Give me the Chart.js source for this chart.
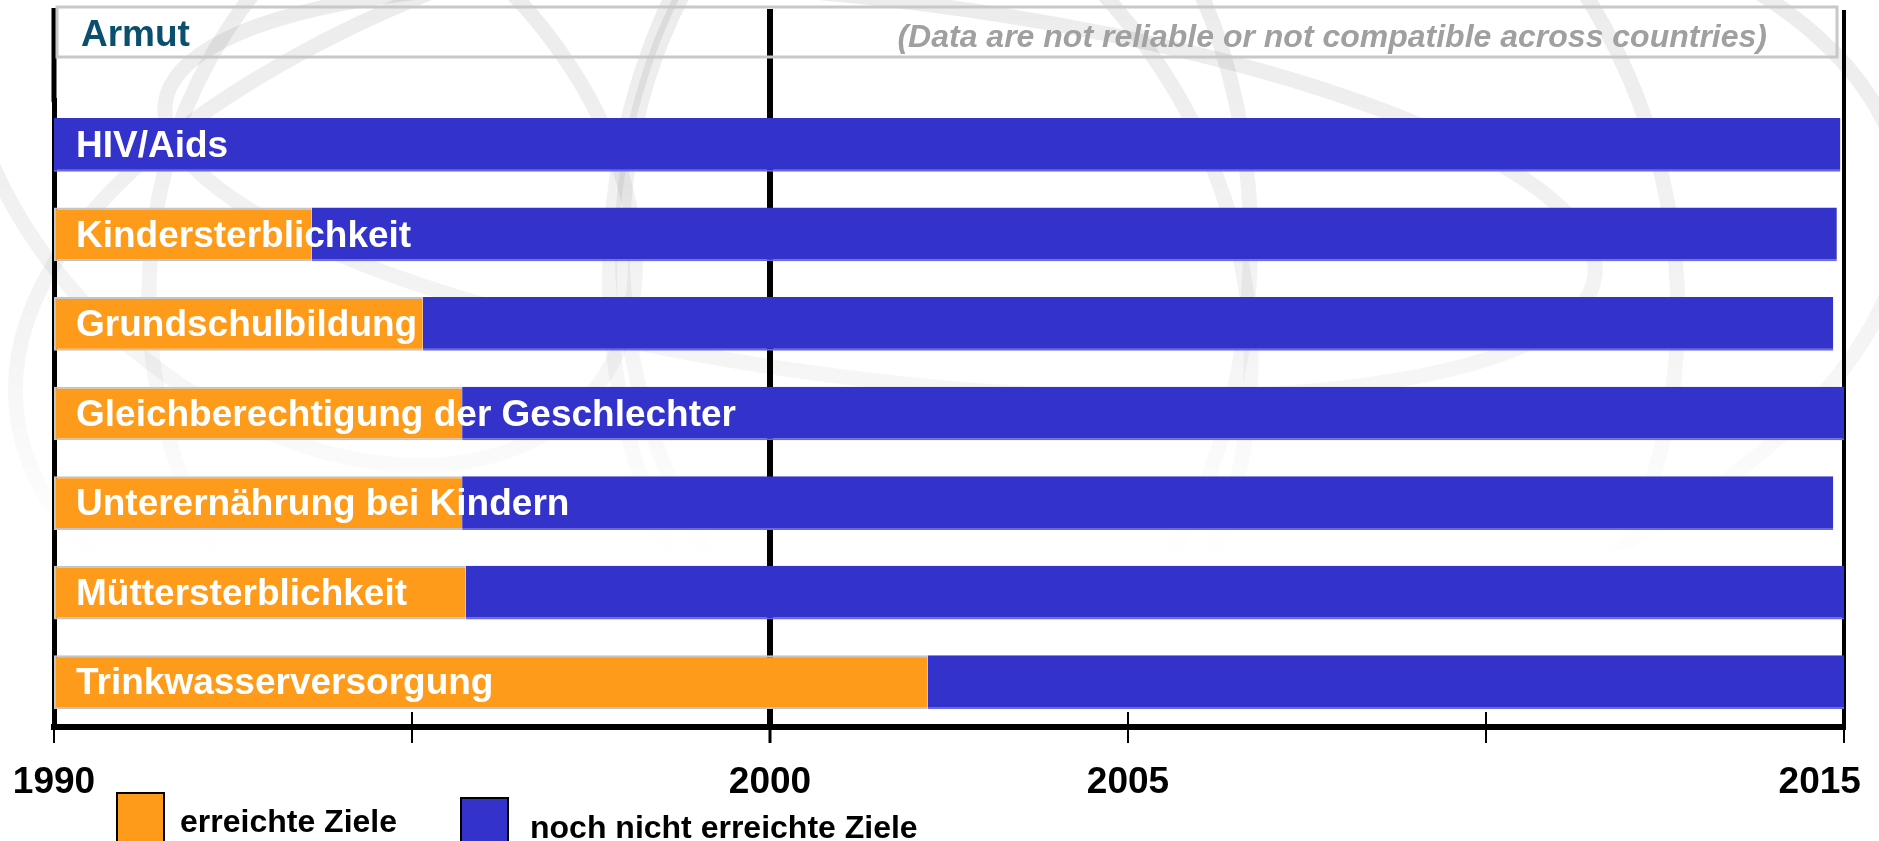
<!DOCTYPE html>
<html>
<head>
<meta charset="utf-8">
<script src="https://cdn.jsdelivr.net/npm/chart.js@4"></script>
<style>
  body { margin: 0; width: 1879px; height: 841px; overflow: hidden; background: #fff; font-family: "Liberation Sans", Arial, sans-serif; }
  #wrap { position: absolute; left: 0; top: 0; width: 1879px; height: 841px; }
  .box { position: absolute; width: 45px; height: 60px; border: 2px solid #000; }
  .lbl { position: absolute; font-weight: bold; font-size: 32px; line-height: 32px; white-space: nowrap; color: #000; }
</style>
</head>
<body>
<div id="wrap"><canvas id="myChart"></canvas></div>
<div class="box" style="left:116px; top:792px; background:#FF9B1A;"></div>
<div class="lbl" style="left:180px; top:805px;">erreichte Ziele</div>
<div class="box" style="left:460px; top:797px; background:#3333CC;"></div>
<div class="lbl" style="left:530px; top:811px;">noch nicht erreichte Ziele</div>
<script>
var goals = ["HIV/Aids", "Kindersterblichkeit", "Grundschulbildung", "Gleichberechtigung der Geschlechter",
             "Unterernährung bei Kindern", "Müttersterblichkeit", "Trinkwasserversorgung"];
var startYear = 1990;
var endYear = 2015;
// year up to which the goal is reached (orange) and end of the blue part
var reachedUntil = [1990, 1993.6, 1995.15, 1995.7, 1995.7, 1995.75, 2002.2];
var openUntil = [2014.95, 2014.9, 2014.85, 2015, 2014.85, 2015, 2015];
var tickYears = [1990, 1995, 2000, 2005, 2010, 2015];
var labelYears = [1990, 2000, 2005, 2015];

var headerTitle = "Armut";
var headerNote = "(Data are not reliable or not compatible across countries)";

var orange = "#FF9B1A";
var blue = "#3333CC";
var fontFamily = '"Liberation Sans", Arial, sans-serif';

var reachedData = reachedUntil.map(v => v > startYear ? [startYear, v] : null);
var openData = reachedUntil.map((v, i) => [v, openUntil[i]]);

// faint globe watermark behind the slide, fading out towards the bottom
var watermark = {
    id: 'watermark',
    beforeDraw(chart) {
        let ctx = chart.ctx;
        ctx.save();
        let g = ctx.createLinearGradient(0, 0, 0, 560);
        g.addColorStop(0, "rgba(0,0,0,0.075)");
        g.addColorStop(0.6, "rgba(0,0,0,0.045)");
        g.addColorStop(1, "rgba(0,0,0,0)");
        ctx.strokeStyle = g;
        ctx.lineWidth = 15;
        [[960, 300, 950, 430, -0.12], [930, 260, 320, 470, 0.05], [880, 190, 720, 190, 0.12],
         [700, 330, 560, 520, 0.5], [1150, 280, 520, 560, -0.45], [300, 150, 380, 260, 0.7]].forEach(e => {
            ctx.beginPath();
            ctx.ellipse(e[0], e[1], e[2], e[3], e[4], 0, Math.PI * 2);
            ctx.stroke();
        });
        ctx.restore();
    }
};

var decor = {
    id: 'decor',
    afterDatasetsDraw(chart) {
        let ctx = chart.ctx, x = chart.scales.x, y = chart.scales.y;
        ctx.save();
        ctx.fillStyle = "#fff";
        ctx.font = "bold 37px " + fontFamily;
        ctx.textBaseline = "middle";
        goals.forEach((g, i) => {
            ctx.fillText(g, x.getPixelForValue(startYear) + 22, y.getPixelForValue(i) + 2);
        });
        ctx.restore();
    },
    afterDraw(chart) {
        let ctx = chart.ctx, x = chart.scales.x, area = chart.chartArea;
        ctx.save();
        // small tick parts above the axis line
        ctx.strokeStyle = "#000";
        ctx.lineWidth = 2;
        [1995, 2005, 2010].forEach(t => {
            let px = x.getPixelForValue(t);
            ctx.beginPath();
            ctx.moveTo(px, area.bottom - 15);
            ctx.lineTo(px, area.bottom);
            ctx.stroke();
        });
        // vertical lines running up through the header row
        [[startYear, 5, 8], [2000, 6, 9], [endYear, 4, 10]].forEach(l => {
            let px = x.getPixelForValue(l[0]);
            ctx.lineWidth = l[1];
            ctx.beginPath();
            ctx.moveTo(px, l[2]);
            ctx.lineTo(px, area.top + 2);
            ctx.stroke();
        });
        // header box
        let left = x.getPixelForValue(startYear) + 3;
        let right = x.getPixelForValue(endYear) - 7;
        ctx.strokeStyle = "#c8c8c8";
        ctx.lineWidth = 3;
        ctx.strokeRect(left, 7, right - left, 50);
        ctx.textBaseline = "middle";
        ctx.fillStyle = "#0B4F6E";
        ctx.font = "bold 37px " + fontFamily;
        ctx.fillText(headerTitle, left + 24, 36);
        ctx.fillStyle = "#a0a0a0";
        ctx.font = "italic bold 32px " + fontFamily;
        ctx.textAlign = "right";
        ctx.fillText(headerNote, 1767, 38);
        ctx.restore();
    }
};

createChart = () => {
    chart = new Chart(document.getElementById("myChart"), {
        type: 'bar',
        data: {
            labels: goals,
            datasets: [
                {
                    label: "erreichte Ziele",
                    data: reachedData,
                    backgroundColor: orange,
                    borderColor: "#c4c4c4",
                    borderWidth: {top: 2, bottom: 2, left: 2, right: 0},
                    borderSkipped: false,
                    grouped: false,
                    order: 0
                },
                {
                    label: "noch nicht erreichte Ziele",
                    data: openData,
                    backgroundColor: blue,
                    borderColor: "#6a6ae0",
                    borderWidth: {top: 0, bottom: 2, left: 0, right: 0},
                    borderSkipped: false,
                    grouped: false,
                    order: 1
                }
            ]
        },
        options: {
            indexAxis: 'y',
            responsive: true,
            maintainAspectRatio: false,
            animation: false,
            layout: { padding: { left: 54, right: 35, top: 100, bottom: 0 } },
            datasets: { bar: { categoryPercentage: 1, barPercentage: 0.6 } },
            plugins: { legend: { display: false }, tooltip: { enabled: false } },
            scales: {
                x: {
                    type: 'linear',
                    min: startYear,
                    max: endYear,
                    afterBuildTicks: s => { s.ticks = tickYears.map(v => ({ value: v })); },
                    afterFit: s => { s.height = 114; s.paddingLeft = 0; s.paddingRight = 0; },
                    ticks: {
                        autoSkip: false,
                        maxRotation: 0,
                        padding: 18,
                        color: "#000",
                        font: { family: fontFamily, size: 37, weight: 'bold' },
                        callback: v => {
                            if (!labelYears.includes(v)) return '';
                            return v === endYear ? v + '\u2007\u2007\u2009' : String(v);
                        }
                    },
                    grid: {
                        drawOnChartArea: true,
                        color: c => (c.tick && (c.tick.value === 2000 || c.tick.value === endYear)) ? "#000" : "rgba(0,0,0,0)",
                        lineWidth: c => (c.tick && c.tick.value === 2000) ? 6 : 4,
                        tickColor: "#000",
                        tickWidth: c => (c.tick && c.tick.value === 2000) ? 3 : 2,
                        tickLength: 16
                    },
                    border: { display: true, color: "#000", width: 6 }
                },
                y: {
                    z: 1,
                    afterFit: s => { s.width = 0; },
                    ticks: { display: false },
                    grid: { display: false, drawTicks: false },
                    border: { display: true, color: "#000", width: 5 }
                }
            }
        },
        plugins: [watermark, decor]
    });
}

createChart();
</script>
</body>
</html>
